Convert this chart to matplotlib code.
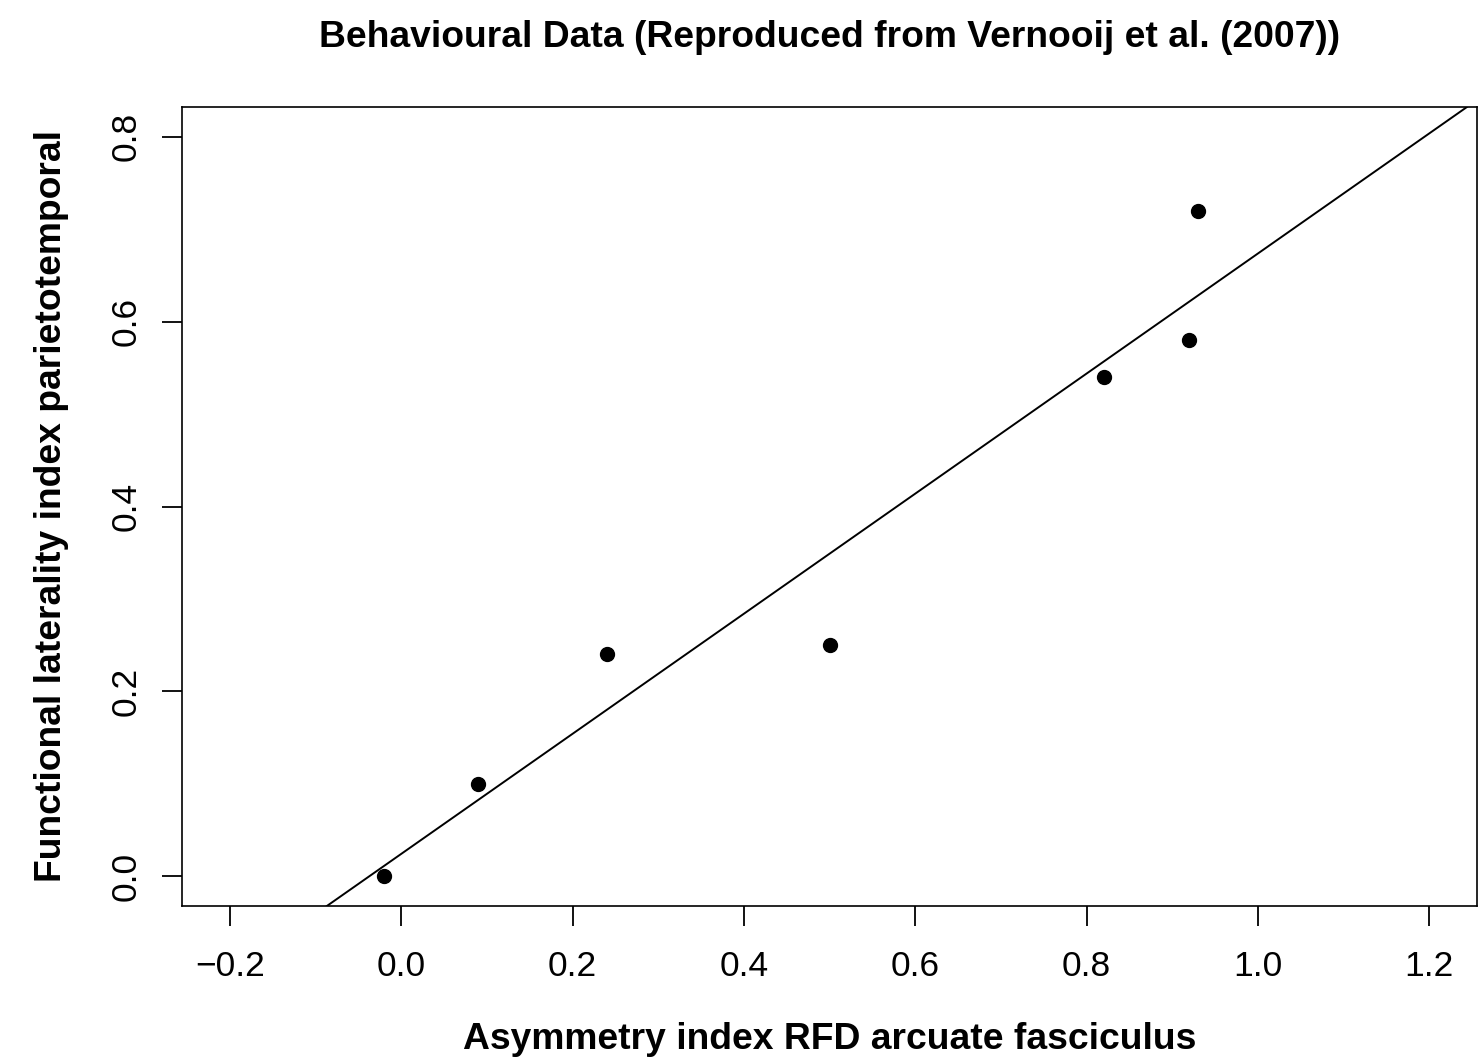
import numpy as np
import matplotlib.pyplot as plt

plt.rcParams['font.family'] = ['Liberation Sans', 'DejaVu Sans']

# data
asym_rfd = [-0.02, 0.09, 0.24, 0.50, 0.82, 0.92, 0.93]
lat_index = [0.00, 0.10, 0.24, 0.25, 0.54, 0.58, 0.72]
xticks = [-0.2, 0.0, 0.2, 0.4, 0.6, 0.8, 1.0, 1.2]
yticks = [0.0, 0.2, 0.4, 0.6, 0.8]

fig = plt.figure(figsize=(14.79, 10.64), dpi=100)
ax = fig.add_axes([182/1479, 1 - 906/1064, 1 - 182/1479 - 0.0012, (906 - 107)/1064])

ax.plot(asym_rfd, lat_index, 'o', color='black', markersize=10)

# least squares line, like abline(lm(y ~ x))
slope, icept = np.polyfit(asym_rfd, lat_index, 1)
ax.axline((0, icept), slope=slope, color='black', lw=1.4)

# R style 4% padding
ax.set_xlim(-0.2 - 0.056, 1.2 + 0.056)
ax.set_ylim(0 - 0.032, 0.8 + 0.032)
ax.set_xticks(xticks)
ax.set_yticks(yticks)
ax.set_xticklabels([f'{v:.1f}'.replace('-', '\u2212') for v in xticks])
ax.set_yticklabels([f'{v:.1f}' for v in yticks], rotation=90, va='center')
ax.tick_params(length=14.5, width=1.3, labelsize=25.5, pad=14)
ax.tick_params(axis='x', pad=17)
for s in ax.spines.values():
    s.set_linewidth(1.2)

ax.set_xlabel('Asymmetry index RFD arcuate fasciculus', fontsize=26.8, fontweight='bold', labelpad=28)
ax.set_ylabel('Functional laterality index parietotemporal', fontsize=26.8, fontweight='bold', labelpad=29)
ax.set_title('Behavioural Data (Reproduced from Vernooij et al. (2007))', fontsize=26.8, fontweight='bold', pad=43)

fig.savefig('out.png', dpi=100)
